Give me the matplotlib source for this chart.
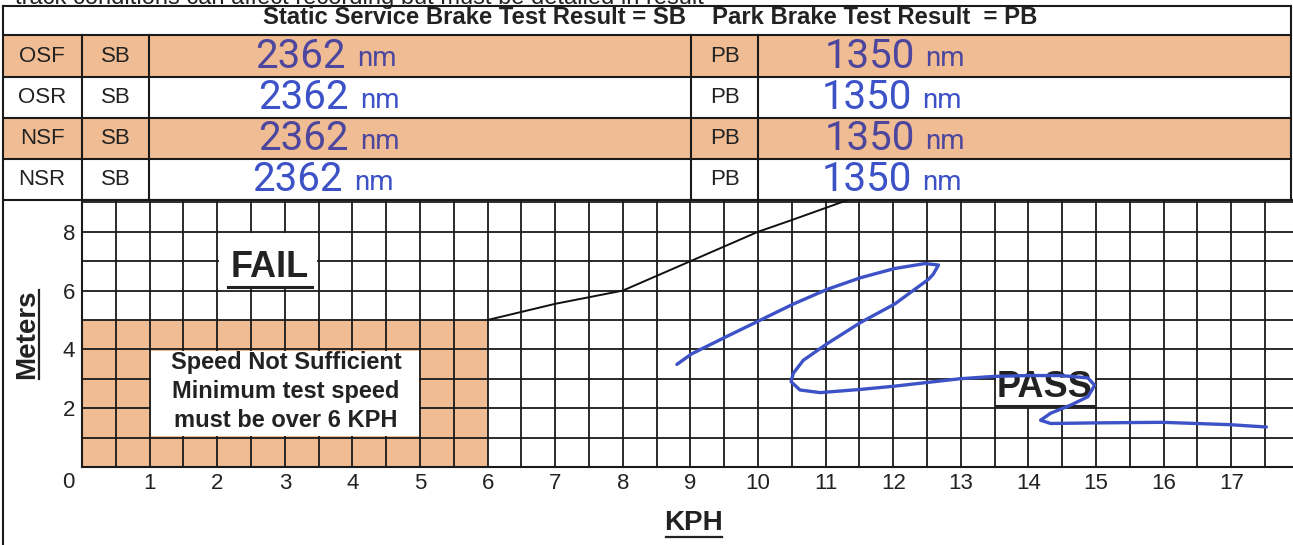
import matplotlib
matplotlib.use('Agg')
import matplotlib.pyplot as plt
from matplotlib.patches import Rectangle
import numpy as np

plt.rcParams['font.family'] = ['Liberation Sans', 'DejaVu Sans']

# %% data read off the scanned form
wheels = ['OSF', 'OSR', 'NSF', 'NSR']
sb_values = ['2362', '2362', '2362', '2362']
pb_values = ['1350', '1350', '1350', '1350']
value_unit = 'nm'

kph_ticks = list(range(1, 18))
meter_ticks = [2, 4, 6, 8]

# pass/fail boundary line (KPH, meters)
boundary_kph = [6, 7, 8, 9, 10, 10.5, 11.35]
boundary_m = [5, 5.55, 6, 7, 8, 8.4, 9.1]

# hand drawn trace (KPH, meters)
trace_kph = [8.8, 9.02, 9.52, 10.02, 10.52, 11.02, 11.52, 12.02, 12.47, 12.67, 12.59,
             12.52, 12.02, 11.52, 11.02, 10.67, 10.52, 10.49, 10.62, 10.92, 11.52,
             12.02, 12.98, 13.48, 13.98, 14.48, 14.88, 14.98, 14.88, 14.63, 14.33,
             14.18, 14.33, 14.98, 15.98, 16.98, 17.52]
trace_m = [3.49, 3.85, 4.42, 4.98, 5.54, 6.04, 6.44, 6.75, 6.92, 6.87, 6.55,
           6.38, 5.54, 4.92, 4.19, 3.63, 3.18, 2.9, 2.62, 2.53, 2.64,
           2.75, 3.0, 3.08, 3.11, 3.11, 3.03, 2.78, 2.39, 2.11, 1.83,
           1.59, 1.48, 1.5, 1.52, 1.44, 1.36]

# %% figure in pixel units
W, H = 1293, 545
ORANGE = '#f0bc93'
INK = '#3d52c6'
INK_ON_ORANGE = '#4c469e'
LW = 1.5

fig = plt.figure(figsize=(W / 100, H / 100), dpi=100)
bg = fig.add_axes([0, 0, 1, 1])
bg.set_xlim(0, W); bg.set_ylim(H, 0); bg.axis('off')

# cut-off line of text at the very top of the scan
bg.text(15, 4, 'track conditions can affect recording but must be detailed in result',
        fontsize=17, va='baseline', ha='left', color='#222')

row_edges = [35, 77, 118, 159, 200]
for i in range(4):
    if i % 2 == 0:
        bg.add_patch(Rectangle((3, row_edges[i]), 1288, row_edges[i + 1] - row_edges[i],
                               fc=ORANGE, ec='none', zorder=0))
for y in [6] + row_edges:
    bg.plot([3, 1291], [y, y], color='#1a1a1a', lw=LW)
bg.plot([3, 3], [6, H], color='#1a1a1a', lw=LW)
bg.plot([1291, 1291], [6, 200], color='#1a1a1a', lw=LW)
for x in [82, 149, 691, 758]:
    bg.plot([x, x], [35, 200], color='#1a1a1a', lw=LW)

bg.text(263, 18, 'Static Service Brake Test Result = SB', fontsize=17.2, fontweight='bold',
        ha='left', va='center', color='#222')
bg.text(712, 18, 'Park Brake Test Result  = PB', fontsize=17.2, fontweight='bold',
        ha='left', va='center', color='#222')

sb_x = [255, 258, 258, 252]
pb_x = [825, 822, 825, 822]
hand = dict(family=['Roboto', 'DejaVu Sans'], fontweight='normal')
for i, w in enumerate(wheels):
    yc = (row_edges[i] + row_edges[i + 1]) / 2
    ink = INK_ON_ORANGE if i % 2 == 0 else INK
    bg.text(42, yc, w, fontsize=16, ha='center', va='center', color='#222')
    bg.text(115.5, yc, 'SB', fontsize=16, ha='center', va='center', color='#222')
    bg.text(724.5, yc, 'PB', fontsize=16, ha='center', va='center', color='#222')
    bg.text(sb_x[i], yc, sb_values[i], fontsize=29, color=ink, va='center', **hand)
    bg.text(sb_x[i] + 102, yc + 3, value_unit, fontsize=20, color=ink, va='center', **hand)
    bg.text(pb_x[i], yc, pb_values[i], fontsize=29, color=ink, va='center', **hand)
    bg.text(pb_x[i] + 100, yc + 3, value_unit, fontsize=20, color=ink, va='center', **hand)

# axis titles
bg.text(27, 334, 'Meters', fontsize=20, fontweight='bold', rotation=90,
        ha='center', va='center', color='#222')
bg.plot([39, 39], [290, 379], color='#222', lw=1.6)
bg.text(694, 523, 'KPH', fontsize=20, fontweight='bold', ha='center', va='center', color='#222')
bg.plot([666, 722], [537, 537], color='#222', lw=1.6)

# %% chart grid
PX_X, PX_Y = 67.6, 29.4
ax = fig.add_axes([82 / W, (H - 467) / H, (W - 82) / W, 267 / H])
ax.set_xlim(0, (W - 82) / PX_X)
ax.set_ylim(0, 267 / PX_Y)
ax.set_xticks(kph_ticks)
ax.set_xticks(np.arange(0.5, 18, 0.5), minor=True)
ax.set_yticks(meter_ticks)
ax.set_yticks(range(1, 10), minor=True)
ax.tick_params(which='both', length=0)
ax.tick_params(axis='x', pad=4.5, labelsize=16, labelcolor='#222')
ax.tick_params(axis='y', pad=5, labelsize=16, labelcolor='#222')
ax.set_axisbelow(True)
ax.grid(which='both', color='#1a1a1a', lw=1.3)
for s in ['left', 'bottom', 'top']:
    ax.spines[s].set_linewidth(LW)
    ax.spines[s].set_color('#1a1a1a')
ax.spines['right'].set_visible(False)
ax.annotate('0', (0, 0), xytext=(-10, -11.5), textcoords='offset points',
            fontsize=16, ha='center', va='center', color='#222', annotation_clip=False)

# speed-not-sufficient zone
ax.add_patch(Rectangle((0, 0), 6, 5, fc=ORANGE, ec='none', zorder=0.2))
ax.add_patch(Rectangle((1.02, 1.04), 3.96, 2.92, fc='white', ec='none', zorder=3))
for yy, line in zip([3.55, 2.57, 1.57], ['Speed Not Sufficient', 'Minimum test speed',
                                         'must be over 6 KPH']):
    ax.text(3.02, yy, line, fontsize=17, fontweight='bold', ha='center', va='center',
            color='#222', zorder=4)

# FAIL / PASS labels
ax.add_patch(Rectangle((2.02, 6.04), 1.46, 1.92, fc='white', ec='none', zorder=3))
ax.text(2.78, 6.79, 'FAIL', fontsize=26, fontweight='bold', ha='center', va='center',
        color='#222', zorder=4)
ax.plot([2.16, 3.4], [6.13, 6.13], color='#222', lw=2.2, zorder=4)

ax.add_patch(Rectangle((13.52, 2.04), 1.46, 1.13, fc='white', ec='none', zorder=3))
ax.text(14.24, 2.7, 'PASS', fontsize=26, fontweight='bold', ha='center', va='center',
        color='#222', zorder=4)
ax.plot([13.52, 14.96], [2.08, 2.08], color='#222', lw=2.2, zorder=4)

ax.plot(boundary_kph, boundary_m, color='#111', lw=1.4, zorder=4)
ax.plot(trace_kph, trace_m, color=INK, lw=2.4, solid_capstyle='round',
        solid_joinstyle='round', zorder=5)

fig.savefig('out.png', dpi=100)
